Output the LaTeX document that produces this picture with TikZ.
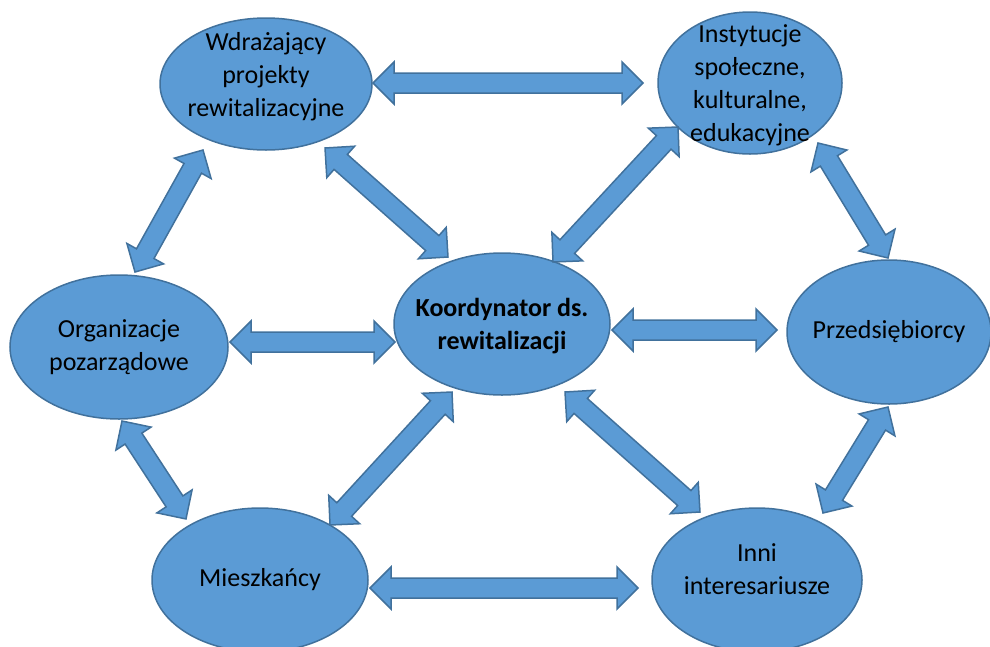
\documentclass[tikz,border=0pt]{standalone}
\usepackage{fontspec}
\setmainfont{Carlito}
\usetikzlibrary{calc,shapes.geometric}

\definecolor{boxfill}{HTML}{5B9BD5}
\definecolor{boxline}{HTML}{41719C}

% block arrow with two heads, tips given as offsets from node centres
\newcommand{\dblarrow}[4]{%
  \path[arr] let \p1=($(#1)+(#2)$), \p2=($(#3)+(#4)$),
    \n1={atan2(\y2-\y1,\x2-\x1)}, \n2={veclen(\x2-\x1,\y2-\y1)} in
    [shift={(\p1)}, rotate=\n1]
    (0,0) -- (21,21) -- (21,10) -- (\n2-21,10) -- (\n2-21,21) -- (\n2,0)
    -- (\n2-21,-21) -- (\n2-21,-10) -- (21,-10) -- (21,-21) -- cycle;
}

\begin{document}
\begin{tikzpicture}[x=1pt, y=-1pt,
  ell/.style={ellipse, draw=boxline, fill=boxfill, line width=1.5pt,
    inner sep=-30pt, align=center, font=\fontsize{26}{33}\selectfont},
  arr/.style={draw=boxline, fill=boxfill, line width=1.5pt, line join=miter}]

  \useasboundingbox (0,0) rectangle (990,646);

  \node[ell, minimum width=212, minimum height=132, text depth=19pt] (wdr)
  at (266,84) {Wdrażający\\projekty\\rewitalizacyjne};
  \node[ell, minimum width=184, minimum height=142, text depth=0pt] (inst)
  at (750,83) {Instytucje\\społeczne,\\kulturalne,\\edukacyjne};
  \node[ell, minimum width=218, minimum height=144] (org) at (119,347)
  {Organizacje\\pozarządowe};
  \node[ell, minimum width=216, minimum height=142, text depth=0pt] (koord)
  at (502,324) {\bfseries Koordynator ds.\\\bfseries rewitalizacji};
  \node[ell, minimum width=204, minimum height=144] (przed) at (889,332)
  {Przedsiębiorcy};
  \node[ell, minimum width=216, minimum height=144] (miesz) at (260,580)
  {Mieszkańcy};
  \node[ell, minimum width=210, minimum height=144, text depth=22pt] (inni)
  at (757,580) {Inni\\interesariusze};

  \dblarrow{wdr}{107,-1}{inst}{-107,0}
  \dblarrow{wdr}{59,64}{koord}{-54,-67}
  \dblarrow{inst}{-72,44}{koord}{51,-62}
  \dblarrow{wdr}{-63,66}{org}{16,-75}
  \dblarrow{inst}{68,60}{przed}{-1,-74}

  \dblarrow{org}{111,-5}{koord}{-107,18}
  \dblarrow{koord}{110,6}{przed}{-112,-2}

  \dblarrow{org}{3,74}{miesz}{-74,-61}
  \dblarrow{koord}{-50,68}{miesz}{70,-55}
  \dblarrow{koord}{63,68}{inni}{-57,-68}
  \dblarrow{przed}{-1,75}{inni}{66,-67}
  \dblarrow{miesz}{110,8}{inni}{-119,8}

\end{tikzpicture}
\end{document}
